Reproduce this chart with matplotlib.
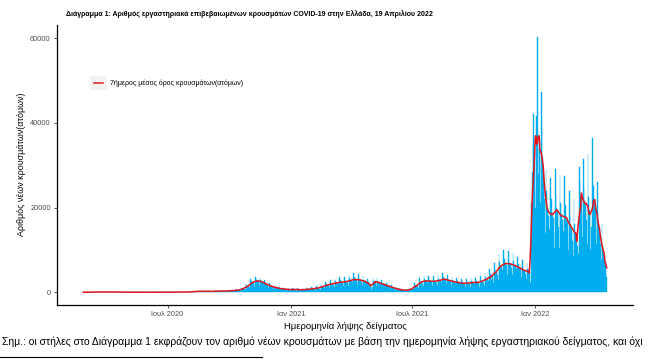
import numpy as np
import pandas as pd
import matplotlib as mpl
mpl.use('Agg')
import matplotlib.pyplot as plt
from matplotlib.patches import Rectangle

plt.rcParams['font.family'] = ['Liberation Sans', 'DejaVu Sans']

# daily new cases by sampling date, one list per month (first day given as key)
feb_2020 = [1, 2, 1, 0]
mar_2020 = [0, 0, 3, 3, 5, 12, 8, 2, 6, 30, 40, 18, 100, 38, 45, 40, 50, 55, 75, 72,
            50, 40, 95, 70, 78, 70, 70, 50, 25, 80, 60]
apr_2020 = [65, 60, 55, 45, 60, 60, 40, 70, 50, 40, 30, 20, 25, 30, 20, 20, 25, 10, 15, 160,
            30, 20, 20, 15, 10, 10, 15, 15, 10, 15]
may_2020 = [10, 5, 5, 10, 15, 10, 5, 10, 5, 5, 5, 10, 10, 10, 5, 5, 3, 10, 10, 5,
            15, 10, 5, 3, 10, 10, 15, 5, 10, 5, 3]
jun_2020 = [5, 10, 10, 10, 5, 5, 5, 10, 10, 10, 15, 15, 10, 5, 10, 15, 20, 15, 20, 20,
            10, 10, 25, 20, 30, 20, 15, 20, 15, 15]
jul_2020 = [20, 25, 20, 15, 10, 25, 20, 30, 30, 35, 20, 15, 30, 25, 30, 20, 35, 30, 20, 40,
            35, 40, 30, 25, 30, 25, 40, 45, 35, 40, 50]
aug_2020 = [60, 40, 100, 110, 90, 120, 150, 100, 80, 160, 170, 260, 170, 180, 220, 130, 230,
            270, 240, 230, 200, 110, 270, 290, 250, 230, 180, 120, 300, 270, 200]
sep_2020 = [250, 240, 230, 200, 170, 110, 300, 280, 270, 240, 220, 180, 120, 380, 330, 310,
            300, 280, 230, 150, 400, 340, 330, 300, 280, 220, 150, 420, 360, 350]
oct_2020 = [380, 360, 330, 230, 560, 430, 400, 380, 370, 340, 220, 700, 560, 500, 470, 460,
            430, 300, 1100, 950, 880, 850, 820, 760, 520, 1900, 1600, 1450, 1400, 1350, 1200]
nov_2020 = [900, 3200, 2700, 2400, 2300, 2200, 2000, 1300, 3500, 3300, 2800, 2700, 2600, 2400,
            1600, 3400, 3000, 2600, 2500, 2300, 2100, 1500, 2800, 2300, 2000, 1900, 1800, 1500,
            1000, 2300]
dec_2020 = [1700, 1500, 1400, 1350, 1200, 800, 1700, 1300, 1150, 1100, 1050, 950, 650, 1350,
            1000, 900, 850, 800, 750, 500, 1100, 900, 800, 750, 650, 400, 450, 1050, 850, 750, 650]
jan_2021 = [350, 500, 400, 950, 750, 650, 700, 600, 550, 400, 900, 700, 600, 600, 550, 500,
            350, 850, 700, 650, 600, 550, 500, 350, 1000, 800, 750, 700, 650, 600, 400]
feb_2021 = [1200, 950, 900, 850, 800, 750, 500, 1450, 1150, 1050, 1000, 950, 850, 600, 1900,
            1500, 1350, 1300, 1250, 1100, 750, 2500, 1950, 1750, 1650, 1600, 1450, 1000]
mar_2021 = [2900, 2300, 2050, 2000, 1900, 1700, 1150, 3200, 2550, 2250, 2150, 2050, 1850, 1300,
            3500, 2800, 2450, 2350, 2250, 2000, 1400, 3700, 2900, 2550, 2450, 2350, 2100, 1450,
            4000, 3300, 2900]
apr_2021 = [2700, 2600, 2350, 1650, 4600, 3500, 3050, 2900, 2800, 2500, 1750, 4400, 3400, 2950,
            2800, 2700, 2400, 1700, 3900, 3000, 2650, 2500, 2400, 2150, 1500, 3100, 2400, 2050,
            1900, 1700]
may_2021 = [1000, 500, 1200, 3400, 2700, 2500, 2400, 2100, 1400, 3400, 2700, 2350, 2250, 2150,
            1950, 1300, 2800, 2200, 1950, 1850, 1750, 1600, 1100, 2200, 1750, 1550, 1450, 1400,
            1250, 850, 1700]
jun_2021 = [1300, 1150, 1100, 1000, 950, 600, 1200, 900, 800, 750, 700, 650, 450, 800, 650, 550,
            520, 500, 450, 300, 450, 700, 550, 500, 480, 420, 280, 900, 750, 750]
jul_2021 = [850, 900, 850, 600, 2100, 1700, 1550, 1500, 1450, 1300, 900, 3400, 2750, 2450, 2350,
            2300, 2050, 1450, 3900, 3100, 2750, 2650, 2550, 2300, 1600, 3800, 3000, 2650, 2550,
            2450, 2200]
aug_2021 = [1550, 3800, 3000, 2650, 2550, 2450, 2200, 1550, 4100, 3200, 2850, 2750, 2650, 2350,
            1700, 4500, 3600, 3150, 3000, 2950, 2650, 1850, 4100, 3200, 2850, 2750, 2650, 2350,
            1650, 3700, 2900]
sep_2021 = [2550, 2450, 2350, 2100, 1500, 3400, 2650, 2350, 2250, 2150, 1950, 1350, 3100, 2400,
            2150, 2050, 1950, 1800, 1250, 3200, 2550, 2250, 2150, 2050, 1850, 1300, 3400, 2650,
            2350, 2250]
oct_2021 = [2150, 1950, 1350, 3400, 2650, 2350, 2250, 2150, 1950, 1350, 3800, 3000, 2650, 2550,
            2450, 2200, 1550, 4500, 3600, 3150, 3050, 2900, 2650, 1850, 5500, 4400, 3900, 3000,
            3900, 3400, 2300]
nov_2021 = [7000, 5500, 4900, 4700, 4600, 4100, 2900, 9000, 7100, 6300, 6100, 5900, 5300, 3700,
            9900, 7800, 6900, 6700, 6500, 5800, 4100, 9700, 7700, 6800, 6600, 6400, 5700, 4000,
            9200, 7300]
dec_2021 = [6400, 6200, 6000, 5400, 3800, 8400, 6700, 5900, 5700, 5500, 4900, 3500, 7500, 6000,
            5300, 5100, 4900, 4400, 3100, 6800, 5600, 5200, 5000, 4800, 2200, 2400, 21000, 28500,
            35000, 42000, 33000]
jan_2022 = [20000, 24000, 41500, 60200, 38000, 28000, 34000, 30000, 21000, 47300, 39000, 32000,
            28000, 26000, 22000, 14000, 28800, 24000, 20000, 19000, 18000, 15000, 10500, 27000,
            22000, 19000, 18000, 17500, 14000, 10500, 29200]
feb_2022 = [23000, 20000, 19000, 18500, 15500, 10500, 27600, 21000, 18500, 17500, 17000, 14500,
            10000, 27400, 20500, 18000, 17000, 16500, 14000, 9900, 24000, 18000, 16000, 15000,
            14500, 12000, 8500, 22100]
mar_2022 = [16000, 14000, 13500, 13000, 11000, 7500, 9000, 29600, 26000, 23000, 22000, 19000,
            13000, 31500, 24500, 21500, 20500, 19500, 17000, 11500, 32600, 22500, 19500, 18000,
            10000, 15500, 10500, 36300, 25000, 22000, 21000]
apr_2022 = [20000, 17500, 11500, 26000, 18500, 15500, 14000, 13000, 11500, 7500, 16000, 11000,
            9500, 8500, 8000, 7000, 4500, 3500]

months = {
    '2020-02-26': feb_2020, '2020-03-01': mar_2020, '2020-04-01': apr_2020,
    '2020-05-01': may_2020, '2020-06-01': jun_2020, '2020-07-01': jul_2020,
    '2020-08-01': aug_2020, '2020-09-01': sep_2020, '2020-10-01': oct_2020,
    '2020-11-01': nov_2020, '2020-12-01': dec_2020, '2021-01-01': jan_2021,
    '2021-02-01': feb_2021, '2021-03-01': mar_2021, '2021-04-01': apr_2021,
    '2021-05-01': may_2021, '2021-06-01': jun_2021, '2021-07-01': jul_2021,
    '2021-08-01': aug_2021, '2021-09-01': sep_2021, '2021-10-01': oct_2021,
    '2021-11-01': nov_2021, '2021-12-01': dec_2021, '2022-01-01': jan_2022,
    '2022-02-01': feb_2022, '2022-03-01': mar_2022, '2022-04-01': apr_2022,
}

parts = []
for start, vals in months.items():
    parts.append(pd.Series(vals, index=pd.date_range(start, periods=len(vals), freq='D')))
cases = pd.concat(parts)

avg7 = cases.rolling(7, center=True, min_periods=4).mean()

tick_dates = pd.to_datetime(['2020-07-01', '2021-01-01', '2021-07-01', '2022-01-01'])
tick_labels = ['Ιουλ 2020', 'Ιαν 2021', 'Ιουλ 2021', 'Ιαν 2022']

fig = plt.figure(figsize=(6.51, 3.61), dpi=100)
ax = fig.add_axes([57/651, 1 - 305/361, 576/651, 280.5/361])

ax.bar(cases.index, cases.values, width=1.0, color='#00AEEF', edgecolor='#00AEEF', linewidth=0.3)
line, = ax.plot(avg7.index, avg7.values, color='#E3161C', lw=1.1,
                label='7ήμερος μέσος όρος κρουσμάτων(ατόμων)')

span = (cases.index[-1] - cases.index[0]) * 0.05
ax.set_xlim(cases.index[0] - span, cases.index[-1] + span)
ymax = cases.max()
ax.set_ylim(-0.05 * ymax, 1.05 * ymax)

ax.set_xticks(tick_dates)
ax.set_xticklabels(tick_labels)
ax.set_yticks([0, 20000, 40000, 60000])
ax.tick_params(labelsize=5.3, labelcolor='#4D4D4D', length=2.5, width=0.6, color='#333333', pad=2)
for side in ['top', 'right']:
    ax.spines[side].set_visible(False)
for side in ['left', 'bottom']:
    ax.spines[side].set_linewidth(0.9)

ax.set_xlabel('Ημερομηνία λήψης δείγματος', fontsize=6.8, labelpad=3)
ax.set_ylabel('Αριθμός νέων κρουσμάτων(ατόμων)', fontsize=6.4, labelpad=3)

ax.add_patch(Rectangle((0.058, 0.765), 0.028, 0.05, transform=ax.transAxes,
                       color='#F2F2F2', lw=0, zorder=3))
ax.legend(handles=[line], loc='center left', bbox_to_anchor=(0.06, 0.79), frameon=False,
          fontsize=5, handlelength=1.2, handletextpad=1.0, borderaxespad=0)

fig.text(66/651, 1 - 14/361, 'Διάγραμμα 1: Αριθμός εργαστηριακά επιβεβαιωμένων κρουσμάτων '
         'COVID-19 στην Ελλάδα, 19 Απριλίου 2022', fontsize=5.0, fontweight='bold', va='center')
fig.text(2/651, 1 - 342/361, 'Σημ.: οι στήλες στο Διάγραμμα 1 εκφράζουν τον αριθμό νέων '
         'κρουσμάτων με βάση την ημερομηνία λήψης εργαστηριακού δείγματος, και όχι',
         fontsize=7.45, va='center')
fig.add_artist(plt.Line2D([0, 262/651], [1 - 357/361] * 2, color='black', lw=0.8))

fig.savefig('out.png', dpi=100)
